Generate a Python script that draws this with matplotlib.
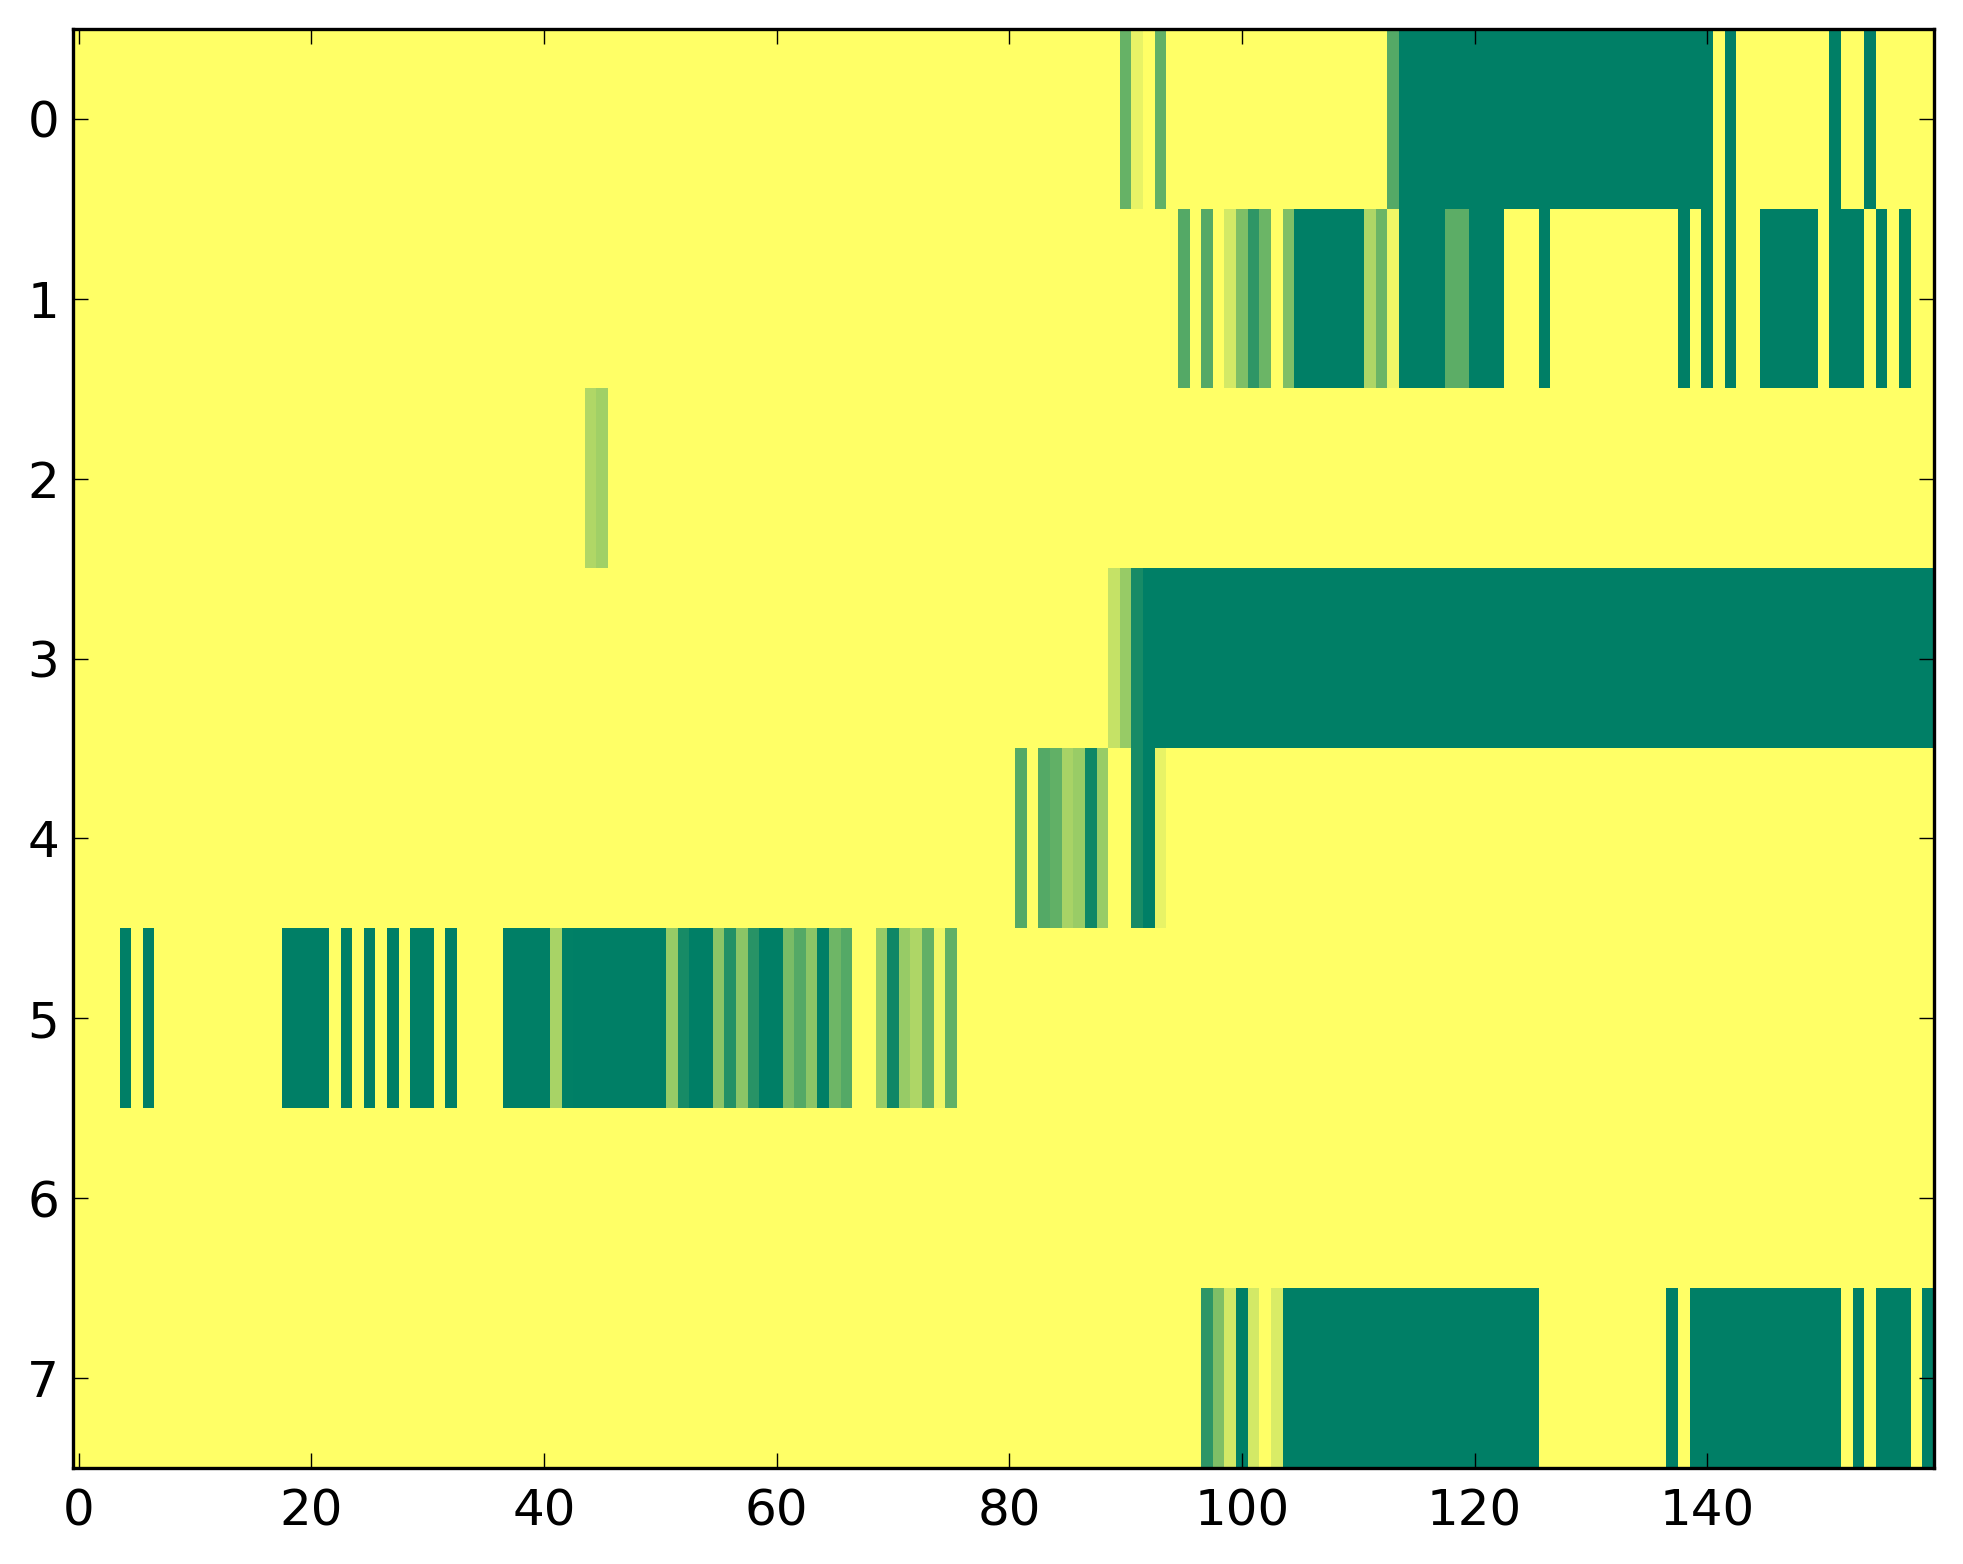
import numpy as np
import matplotlib
matplotlib.use('Agg')
import matplotlib.pyplot as plt

n_rows = 8
n_cols = 160

# runs of non-zero cells per row: (first column, last column, value)
row0 = [(90, 90, 0.60), (91, 91, 0.09), (93, 93, 0.62), (113, 113, 0.67),
        (114, 140, 1.0), (142, 142, 1.0), (151, 151, 1.0), (154, 154, 1.0)]
row1 = [(95, 95, 0.67), (97, 97, 0.67), (99, 99, 0.17), (100, 100, 0.50),
        (101, 101, 0.82), (102, 102, 0.58), (104, 104, 0.50), (105, 110, 1.0),
        (111, 111, 0.32), (112, 112, 0.58), (113, 113, 0.06), (114, 117, 1.0),
        (118, 119, 0.64), (120, 122, 1.0), (126, 126, 1.0), (138, 138, 1.0),
        (140, 140, 1.0), (142, 142, 1.0), (145, 149, 1.0), (151, 153, 1.0),
        (155, 155, 1.0), (157, 157, 1.0)]
row2 = [(44, 44, 0.31), (45, 45, 0.37)]
row3 = [(89, 89, 0.23), (90, 90, 0.41), (91, 91, 0.91), (92, 159, 1.0)]
row4 = [(81, 81, 0.67), (83, 83, 0.67), (84, 84, 0.62), (85, 85, 0.34),
        (86, 86, 0.40), (87, 87, 0.94), (88, 88, 0.40), (91, 91, 0.91),
        (92, 92, 1.0), (93, 93, 0.09)]
row5 = [(4, 4, 1.0), (6, 6, 1.0), (18, 21, 1.0), (23, 23, 1.0), (25, 25, 1.0),
        (27, 27, 1.0), (29, 30, 1.0), (32, 32, 1.0), (37, 40, 1.0),
        (41, 41, 0.34), (42, 42, 0.99), (43, 50, 1.0), (51, 51, 0.41),
        (52, 52, 0.91), (53, 54, 1.0), (55, 55, 0.455), (56, 56, 0.86),
        (57, 57, 0.455), (58, 58, 0.84), (59, 60, 1.0), (61, 61, 0.52),
        (62, 62, 0.67), (63, 63, 0.455), (64, 64, 1.0), (65, 65, 0.57),
        (66, 66, 0.67), (69, 69, 0.41), (70, 70, 0.94), (71, 71, 0.41),
        (72, 72, 0.32), (73, 73, 0.62), (74, 74, 0.06), (75, 75, 0.62)]
row6 = []
row7 = [(97, 97, 0.82), (98, 98, 0.50), (99, 99, 0.17), (100, 100, 1.0),
        (101, 101, 0.17), (103, 103, 0.15), (104, 125, 1.0), (137, 137, 1.0),
        (139, 151, 1.0), (153, 153, 1.0), (155, 157, 1.0), (159, 159, 1.0)]

rows = [row0, row1, row2, row3, row4, row5, row6, row7]

grid = np.zeros((n_rows, n_cols))
for i, runs in enumerate(rows):
    for start, stop, val in runs:
        grid[i, start:stop + 1] = val

W, H = 1963, 1564
fig = plt.figure(figsize=(W / 200, H / 200), dpi=200, facecolor='white')
ax = fig.add_axes([73 / W, 1 - 1468 / H, (1934 - 73) / W, (1468 - 29) / H])
ax.imshow(grid, cmap='summer_r', vmin=0, vmax=1, aspect='auto',
          interpolation='nearest')

ax.set_xticks(np.arange(0, 141, 20))
ax.set_yticks(np.arange(0, 8))
ax.tick_params(direction='in', top=True, right=True, length=5.5, width=0.5,
               labelsize=18)
ax.tick_params(axis='x', pad=7)
ax.tick_params(axis='y', pad=5)
for s in ax.spines.values():
    s.set_linewidth(1.2)

fig.savefig('out.png', dpi=200, facecolor='white')
